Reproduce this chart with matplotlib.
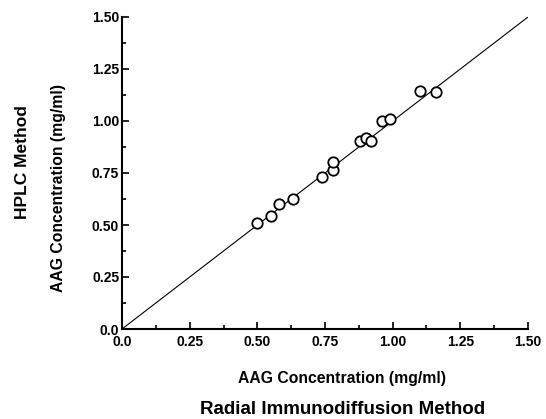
import matplotlib
matplotlib.use("Agg")
import matplotlib.pyplot as plt
from matplotlib.ticker import MultipleLocator, FixedLocator, FixedFormatter

rid = [0.50, 0.55, 0.58, 0.63, 0.74, 0.78, 0.78, 0.88, 0.90, 0.92, 0.96, 0.99, 1.10, 1.16]
hplc = [0.51, 0.545, 0.60, 0.625, 0.73, 0.765, 0.805, 0.905, 0.92, 0.905, 1.00, 1.01, 1.145, 1.14]
line_x = [0.0, 1.5]
line_y = [0.0, 1.5]
tick_vals = [0.0, 0.25, 0.5, 0.75, 1.0, 1.25, 1.5]
tick_labels = ["0.0", "0.25", "0.50", "0.75", "1.00", "1.25", "1.50"]

plt.rcParams['font.family'] = ['Liberation Sans', 'DejaVu Sans']

fig = plt.figure(figsize=(5.46, 4.19), dpi=100)
ax = fig.add_axes([122/546, 1-329/419, (528-122)/546, (329-17)/419])

ax.plot(line_x, line_y, color='black', lw=0.8)
ax.plot(rid, hplc, 'o', mfc='white', mec='black', ms=7.5, mew=1.3)

ax.set_xlim(0, 1.5)
ax.set_ylim(0, 1.5)
for a in (ax.xaxis, ax.yaxis):
    a.set_major_locator(FixedLocator(tick_vals))
    a.set_major_formatter(FixedFormatter(tick_labels))
    a.set_minor_locator(MultipleLocator(0.125))
ax.tick_params(which='both', direction='in', width=1.2)
ax.tick_params(which='major', length=5, labelsize=10)
ax.tick_params(which='minor', length=3)
for lab in ax.get_xticklabels() + ax.get_yticklabels():
    lab.set_fontweight('bold')
ax.tick_params(axis='x', pad=4)
ax.tick_params(axis='y', pad=2)
ax.spines['top'].set_visible(False)
ax.spines['right'].set_visible(False)
ax.spines['left'].set_linewidth(1.5)
ax.spines['bottom'].set_linewidth(1.5)

fig.text(342/546, 1-378/419, "AAG Concentration (mg/ml)", ha='center', va='center', fontsize=11.3, fontweight='bold')
fig.text(343/546, 1-409/419, "Radial Immunodiffusion Method", ha='center', va='center', fontsize=13.5, fontweight='bold')
fig.text(58/546, 1-188/419, "AAG Concentration (mg/ml)", ha='center', va='center', fontsize=11.3, fontweight='bold', rotation=90)
fig.text(23/546, 1-162/419, "HPLC Method", ha='center', va='center', fontsize=12.5, fontweight='bold', rotation=90)

fig.savefig("out.png", dpi=100)
